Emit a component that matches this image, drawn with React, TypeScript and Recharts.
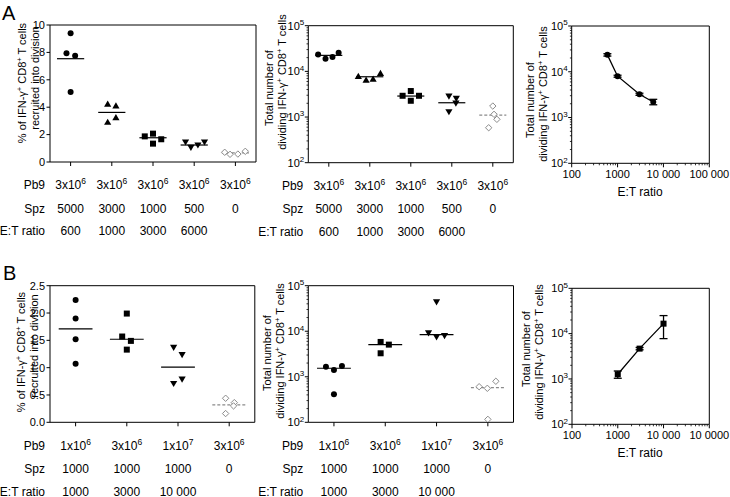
import React from 'react';
import { ScatterChart, LineChart, Scatter, Line, XAxis, YAxis, ReferenceLine, ErrorBar } from 'recharts';

const FONT = '"Liberation Sans", Arial, Helvetica, sans-serif';

// ---------- Panel A : table rows ----------
const aPb9 = ['3x10^6', '3x10^6', '3x10^6', '3x10^6', '3x10^6'];
const aSpz = ['5000', '3000', '1000', '500', '0'];
const aEtRow = ['600', '1000', '3000', '6000', ''];

// Panel A left: % recruited into division
const aPctValues = [
  [9.39, 7.93, 7.76, 5.11],
  [4.23, 4.09, 2.9, 3.24],
  [1.87, 2.07, 1.34, 1.66],
  [1.46, 1.07, 1.24, 1.46],
  [0.71, 0.56, 0.58, 0.78],
];
const aPctJitter = [
  [0, -0.1, 0.11, 0],
  [-0.1, 0.1, -0.1, 0.1],
  [-0.2, 0, 0, 0.2],
  [-0.21, -0.08, 0.09, 0.25],
  [-0.26, -0.13, 0.06, 0.24],
];
const aPctCentral = [7.54, 3.62, 1.77, 1.24, 0.66];
const aPctTicks = [0, 2, 4, 6, 8, 10];
const aPctTickLabels = ['0', '2', '4', '6', '8', '10'];

// Panel A middle: total number of dividing cells
const aCountValues = [
  [23550, 18870, 20560, 25530],
  [7780, 6450, 6790, 9040],
  [2920, 3710, 2270, 2920],
  [2880, 2565, 2025, 1306],
  [1740, 1146, 891, 583],
];
const aCountJitter = [
  [-0.26, -0.08, 0.09, 0.24],
  [-0.28, -0.09, 0.08, 0.26],
  [-0.2, 0, 0, 0.2],
  [-0.07, 0.11, 0.1, -0.07],
  [0, 0.03, 0.1, -0.1],
];
const aCountCentral = [22400, 7620, 2880, 2055, 1106];

// Panel A right: count vs E:T ratio
const aRatio = [600, 1000, 3000, 6000];
const aRatioMean = [23400, 8010, 3235, 2190];
const aRatioLow = [22000, 7600, 3050, 1900];
const aRatioHigh = [24800, 8400, 3400, 2500];
const aRatioXLabels = ['100', '1000', '10 000', '100 000'];

// ---------- Panel B : table rows ----------
const bPb9 = ['1x10^6', '3x10^6', '1x10^7', '3x10^6'];
const bSpz = ['1000', '1000', '1000', '0'];
const bEtRow = ['1000', '3000', '10 000', ''];

const bPctValues = [
  [2.24, 1.9, 1.52, 1.07],
  [1.99, 1.57, 1.49, 1.33],
  [1.37, 1.24, 0.71, 0.79],
  [0.44, 0.36, 0.3, 0.16],
];
const bPctJitter = [
  [0, 0, 0, 0],
  [0, -0.09, 0.08, 0],
  [-0.085, 0.08, -0.085, 0.08],
  [-0.07, 0.1, 0.085, -0.07],
];
const bPctCentral = [1.71, 1.52, 1.01, 0.32];
const bPctTicks = [0, 0.5, 1, 1.5, 2, 2.5];
const bPctTickLabels = ['0.0', '0.5', '1.0', '1.5', '2.0', '2.5'];

const bCountValues = [
  [1667, 1410, 1727, 412],
  [5820, 5080, 3280],
  [44050, 9180, 7500, 8000],
  [605, 558, 796, 116],
];
const bCountJitter = [
  [-0.156, 0, 0.156, 0],
  [-0.09, 0.07, -0.09],
  [0, -0.156, 0, 0.156],
  [-0.17, -0.01, 0.156, 0],
];
const bCountCentral = [1538, 5080, 8420, 575];

const bRatio = [1000, 3000, 10000];
const bRatioMean = [1270, 4670, 16600];
const bRatioLow = [1036, 4400, 7760];
const bRatioHigh = [1500, 4950, 25000];
const bRatioXLabels = ['100', '1000', '10 000', '10 0000'];

// log ticks
const logMajor = [100, 1000, 10000, 100000];
const logMinor: number[] = [];
for (let k = 0; k < logMajor.length - 1; k++) for (let m = 2; m <= 9; m++) logMinor.push(logMajor[k] * m);
const logTicks = [...logMajor, ...logMinor].sort((a, b) => a - b);

// ---------- markers ----------
const Circle = (p: any) => <circle cx={p.cx} cy={p.cy} r={3} fill="#000" />;
const TriUp = (p: any) => (
  <polygon points={`${p.cx},${p.cy - 3.6} ${p.cx + 3.6},${p.cy + 2.6} ${p.cx - 3.6},${p.cy + 2.6}`} fill="#000" />
);
const TriDown = (p: any) => (
  <polygon points={`${p.cx},${p.cy + 3.6} ${p.cx + 3.6},${p.cy - 2.6} ${p.cx - 3.6},${p.cy - 2.6}`} fill="#000" />
);
const Square = (p: any) => <rect x={p.cx - 3} y={p.cy - 3} width={6} height={6} fill="#000" />;
const Diamond = (p: any) => (
  <polygon
    points={`${p.cx},${p.cy - 3.2} ${p.cx + 3.2},${p.cy} ${p.cx},${p.cy + 3.2} ${p.cx - 3.2},${p.cy}`}
    fill="#fff"
    stroke="#8a8a8a"
    strokeWidth={1}
  />
);

const aMarkers = [Circle, TriUp, Square, TriDown, Diamond];
const bMarkers = [Circle, Square, TriDown, Diamond];

const Sup = ({ s, size = 8.5, shift = 5 }: { s: string; size?: number; shift?: number }) => {
  const [base, exp] = s.split('^');
  return (
    <>
      {base}
      {exp ? (
        <tspan dy={-shift} fontSize={size}>
          {exp}
        </tspan>
      ) : null}
    </>
  );
};

type Rect = { left: number; top: number; width: number; height: number };

function geometry(box: Rect, plot: Rect) {
  return {
    margin: {
      top: plot.top - box.top,
      right: box.left + box.width - (plot.left + plot.width),
      bottom: 0,
      left: 0,
    },
    yAxisWidth: plot.left - box.left,
    xAxisHeight: box.top + box.height - (plot.top + plot.height),
    rowLabelX: plot.left - box.left - 5,
  };
}

const linYTick = (ticks: number[], labels: string[]) => (p: any) => {
  const i = ticks.indexOf(p.payload.value);
  return (
    <g>
      <line x1={p.x} y1={p.y} x2={p.x - 3.5} y2={p.y} stroke="#000" strokeWidth={1} />
      <text x={p.x - 5} y={p.y} dy="0.35em" textAnchor="end" fontSize={11} fill="#000">
        {labels[i]}
      </text>
    </g>
  );
};

const logYTick = (p: any) => {
  const v = p.payload.value;
  const major = logMajor.includes(v);
  if (!major) return <line x1={p.x} y1={p.y} x2={p.x - 1.8} y2={p.y} stroke="#000" strokeWidth={0.8} />;
  const e = Math.round(Math.log10(v));
  return (
    <g>
      <line x1={p.x} y1={p.y} x2={p.x - 3.5} y2={p.y} stroke="#000" strokeWidth={1} />
      <text x={p.x - 4} y={p.y} dy="0.35em" textAnchor="end" fontSize={11} fill="#000">
        10
        <tspan dy={-4.5} fontSize={8}>
          {e}
        </tspan>
      </text>
    </g>
  );
};

const logXTick = (labels: string[]) => (p: any) => {
  const v = p.payload.value;
  const i = logMajor.indexOf(v);
  if (i < 0) return <line x1={p.x} y1={p.y} x2={p.x} y2={p.y + 2} stroke="#000" strokeWidth={0.8} />;
  return (
    <g>
      <line x1={p.x} y1={p.y} x2={p.x} y2={p.y + 4} stroke="#000" strokeWidth={1} />
      <text x={p.x} y={p.y + 11} dy="0.35em" textAnchor="middle" fontSize={11} fill="#000">
        {labels[i]}
      </text>
    </g>
  );
};

const tableTick = (pb9: string[], spz: string[], et: string[], rowLabelX: number) => (p: any) => {
  const i = Math.round(p.payload.value) - 1;
  const y = p.y;
  return (
    <g fontSize={12} fill="#000">
      <line x1={p.x} y1={y} x2={p.x} y2={y + 4} stroke="#000" strokeWidth={1} />
      <text x={p.x} y={y + 23} dy="0.35em" textAnchor="middle">
        <Sup s={pb9[i]} />
      </text>
      <text x={p.x} y={y + 46.5} dy="0.35em" textAnchor="middle">
        {spz[i]}
      </text>
      <text x={p.x} y={y + 69} dy="0.35em" textAnchor="middle">
        {et[i]}
      </text>
      {i === 0 ? (
        <>
          <text x={rowLabelX} y={y + 23} dy="0.35em" textAnchor="end">
            Pb9
          </text>
          <text x={rowLabelX} y={y + 46.5} dy="0.35em" textAnchor="end">
            Spz
          </text>
          <text x={rowLabelX} y={y + 69} dy="0.35em" textAnchor="end">
            E:T ratio
          </text>
        </>
      ) : null}
    </g>
  );
};

type DotPlotProps = {
  box: Rect;
  plot: Rect;
  values: number[][];
  jitter: number[][];
  central: number[];
  markers: any[];
  log: boolean;
  yTicks?: number[];
  yTickLabels?: string[];
  pb9: string[];
  spz: string[];
  et: string[];
};

function DotPlot(props: DotPlotProps) {
  const { box, plot, values, jitter, central, markers, log, yTicks, yTickLabels, pb9, spz, et } = props;
  const g = geometry(box, plot);
  const n = values.length;
  const xTicks = values.map((_, i) => i + 1);
  const yDomain = log ? [100, 100000] : [yTicks![0], yTicks![yTicks!.length - 1]];
  return (
    <div style={{ position: 'absolute', left: box.left, top: box.top }}>
      <ScatterChart width={box.width} height={box.height} margin={g.margin}>
        <XAxis
          type="number"
          dataKey="x"
          domain={[0.5, n + 0.5]}
          ticks={xTicks}
          interval={0}
          tickSize={0}
          tickMargin={0}
          tickLine={false}
          height={g.xAxisHeight}
          axisLine={{ stroke: '#000', strokeWidth: 1 }}
          tick={tableTick(pb9, spz, et, g.rowLabelX)}
          allowDataOverflow
        />
        <YAxis
          type="number"
          dataKey="y"
          scale={log ? 'log' : 'linear'}
          domain={yDomain}
          ticks={log ? logTicks : yTicks}
          interval={0}
          tickSize={0}
          tickMargin={0}
          tickLine={false}
          width={g.yAxisWidth}
          axisLine={{ stroke: '#000', strokeWidth: 1 }}
          tick={log ? logYTick : linYTick(yTicks!, yTickLabels!)}
          allowDataOverflow
        />
        <ReferenceLine y={yDomain[1]} stroke="#000" strokeWidth={1} />
        <ReferenceLine x={n + 0.5} stroke="#000" strokeWidth={1} />
        {central.map((m, i) => (
          <ReferenceLine
            key={'c' + i}
            segment={[
              { x: i + 1 - 0.33, y: m },
              { x: i + 1 + 0.33, y: m },
            ]}
            stroke={i === n - 1 ? '#8a8a8a' : '#000'}
            strokeDasharray={i === n - 1 ? '3 2' : undefined}
            strokeWidth={1.2}
          />
        ))}
        {values.map((grp, i) => (
          <Scatter
            key={'s' + i}
            data={grp.map((v, j) => ({ x: i + 1 + jitter[i][j], y: v }))}
            shape={markers[i]}
            isAnimationActive={false}
          />
        ))}
      </ScatterChart>
    </div>
  );
}

type RatioProps = {
  box: Rect;
  plot: Rect;
  ratio: number[];
  mean: number[];
  low: number[];
  high: number[];
  marker: any;
  xLabels: string[];
};

function RatioPlot(props: RatioProps) {
  const { box, plot, ratio, mean, low, high, marker, xLabels } = props;
  const g = geometry(box, plot);
  const data = ratio.map((r, i) => ({ x: r, y: mean[i], err: [mean[i] - low[i], high[i] - mean[i]] }));
  const Marker = marker;
  return (
    <div style={{ position: 'absolute', left: box.left, top: box.top }}>
      <LineChart width={box.width} height={box.height} margin={g.margin} data={data}>
        <XAxis
          type="number"
          dataKey="x"
          scale="log"
          domain={[100, 100000]}
          ticks={logTicks}
          interval={0}
          tickSize={0}
          tickMargin={0}
          tickLine={false}
          height={g.xAxisHeight}
          axisLine={{ stroke: '#000', strokeWidth: 1 }}
          tick={logXTick(xLabels)}
          allowDataOverflow
        />
        <YAxis
          type="number"
          scale="log"
          domain={[100, 100000]}
          ticks={logTicks}
          interval={0}
          tickSize={0}
          tickMargin={0}
          tickLine={false}
          width={g.yAxisWidth}
          axisLine={{ stroke: '#000', strokeWidth: 1 }}
          tick={logYTick}
          allowDataOverflow
        />
        <ReferenceLine y={100000} stroke="#000" strokeWidth={1} />
        <ReferenceLine x={100000} stroke="#000" strokeWidth={1} />
        <Line
          dataKey="y"
          stroke="#000"
          strokeWidth={1.3}
          isAnimationActive={false}
          dot={(p: any) => <Marker key={'d' + p.index} cx={p.cx} cy={p.cy} />}
        >
          <ErrorBar dataKey="err" direction="y" width={4} stroke="#000" strokeWidth={1.3} />
        </Line>
      </LineChart>
    </div>
  );
}

const Title = ({ x, y, children }: { x: number; y: number; children: React.ReactNode }) => (
  <text transform={`translate(${x},${y}) rotate(-90)`} textAnchor="middle" dy="0.35em" fontSize={11} fill="#000">
    {children}
  </text>
);

const IfnLine = ({ prefix }: { prefix: string }) => (
  <>
    {prefix}IFN-γ
    <tspan dy={-4} fontSize={7.5}>
      +
    </tspan>
    <tspan dy={4}> CD8</tspan>
    <tspan dy={-4} fontSize={7.5}>
      +
    </tspan>
    <tspan dy={4}> T cells</tspan>
  </>
);

export default function App() {
  return (
    <div
      style={{
        position: 'absolute',
        left: 0,
        top: 0,
        width: 730,
        height: 497,
        overflow: 'hidden',
        background: '#fff',
        fontFamily: FONT,
      }}
    >
      <DotPlot
        box={{ left: 0, top: 0, width: 262, height: 240 }}
        plot={{ left: 50, top: 25, width: 206, height: 137 }}
        values={aPctValues}
        jitter={aPctJitter}
        central={aPctCentral}
        markers={aMarkers}
        log={false}
        yTicks={aPctTicks}
        yTickLabels={aPctTickLabels}
        pb9={aPb9}
        spz={aSpz}
        et={aEtRow}
      />
      <DotPlot
        box={{ left: 240, top: 0, width: 280, height: 240 }}
        plot={{ left: 308.3, top: 25.7, width: 205, height: 137 }}
        values={aCountValues}
        jitter={aCountJitter}
        central={aCountCentral}
        markers={aMarkers}
        log={true}
        pb9={aPb9}
        spz={aSpz}
        et={aEtRow}
      />
      <RatioPlot
        box={{ left: 500, top: 0, width: 230, height: 200 }}
        plot={{ left: 571.7, top: 26, width: 137.6, height: 137.3 }}
        ratio={aRatio}
        mean={aRatioMean}
        low={aRatioLow}
        high={aRatioHigh}
        marker={Circle}
        xLabels={aRatioXLabels}
      />
      <DotPlot
        box={{ left: 0, top: 260, width: 262, height: 240 }}
        plot={{ left: 50, top: 285.7, width: 204.8, height: 136.6 }}
        values={bPctValues}
        jitter={bPctJitter}
        central={bPctCentral}
        markers={bMarkers}
        log={false}
        yTicks={bPctTicks}
        yTickLabels={bPctTickLabels}
        pb9={bPb9}
        spz={bSpz}
        et={bEtRow}
      />
      <DotPlot
        box={{ left: 240, top: 260, width: 280, height: 240 }}
        plot={{ left: 308.3, top: 285.7, width: 205.2, height: 136.6 }}
        values={bCountValues}
        jitter={bCountJitter}
        central={bCountCentral}
        markers={bMarkers}
        log={true}
        pb9={bPb9}
        spz={bSpz}
        et={bEtRow}
      />
      <RatioPlot
        box={{ left: 500, top: 260, width: 230, height: 200 }}
        plot={{ left: 572, top: 288.3, width: 137.3, height: 136 }}
        ratio={bRatio}
        mean={bRatioMean}
        low={bRatioLow}
        high={bRatioHigh}
        marker={Square}
        xLabels={bRatioXLabels}
      />
      <svg
        width={730}
        height={497}
        style={{ position: 'absolute', left: 0, top: 0, pointerEvents: 'none' }}
      >
        <text x={2} y={20} fontSize={20} fill="#000">
          A
        </text>
        <text x={3} y={280} fontSize={20} fill="#000">
          B
        </text>
        {/* A left */}
        <Title x={22.5} y={83}>
          <IfnLine prefix="% of " />
        </Title>
        <Title x={35} y={78}>
          recruited into division
        </Title>
        {/* A middle */}
        <Title x={269} y={88}>
          Total number of
        </Title>
        <Title x={282} y={82}>
          <IfnLine prefix="dividing " />
        </Title>
        {/* A right */}
        <Title x={530} y={100}>
          Total number of
        </Title>
        <Title x={543} y={94}>
          <IfnLine prefix="dividing " />
        </Title>
        <text x={640} y={192} dy="0.35em" textAnchor="middle" fontSize={12} fill="#000">
          E:T ratio
        </text>
        {/* B left */}
        <Title x={21.5} y={352}>
          <IfnLine prefix="% of " />
        </Title>
        <Title x={34} y={346}>
          recruited into division
        </Title>
        {/* B middle */}
        <Title x={267} y={353}>
          Total number of
        </Title>
        <Title x={280} y={351}>
          <IfnLine prefix="dividing " />
        </Title>
        {/* B right */}
        <Title x={526} y={349}>
          Total number of
        </Title>
        <Title x={539} y={352}>
          <IfnLine prefix="dividing " />
        </Title>
        <text x={640} y={453} dy="0.35em" textAnchor="middle" fontSize={12} fill="#000">
          E:T ratio
        </text>
      </svg>
    </div>
  );
}
